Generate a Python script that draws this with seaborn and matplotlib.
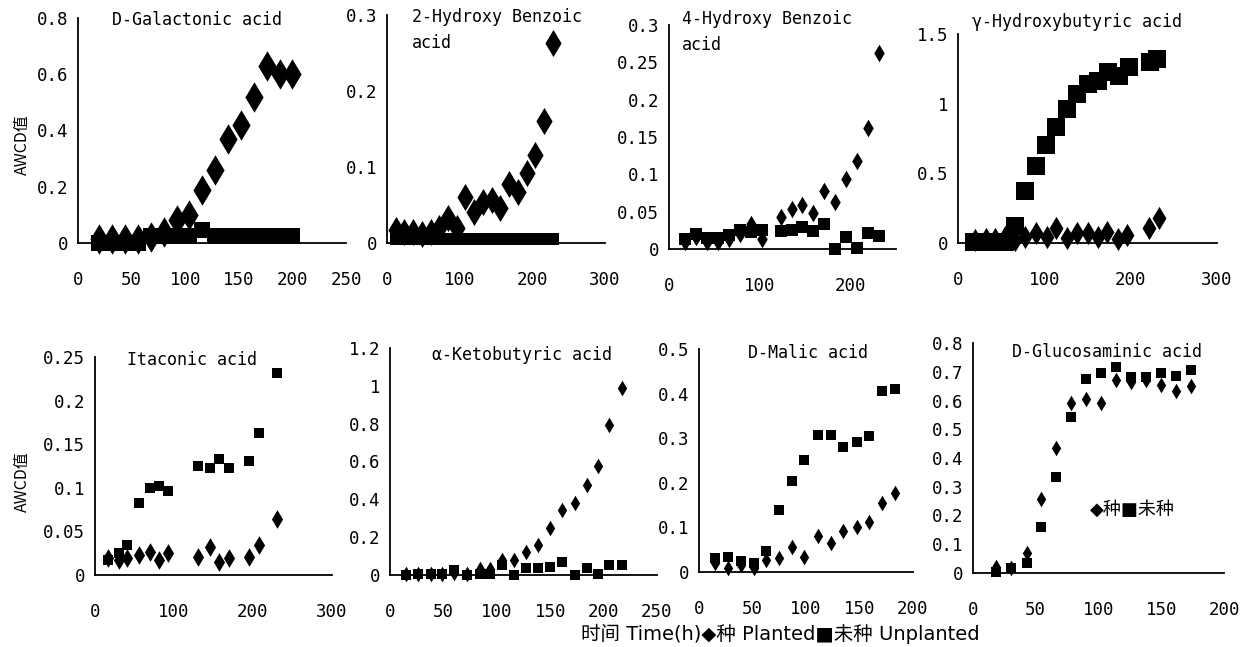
import numpy as np
import pandas as pd
import seaborn as sns
import matplotlib.pyplot as plt

# D-Galactonic acid
gal_time = [20, 32, 44, 56, 68, 80, 92, 104, 116, 128, 140, 152, 164, 176, 188, 200]
gal_planted = [0.015, 0.015, 0.015, 0.015, 0.02, 0.04, 0.08, 0.10, 0.19, 0.26, 0.37, 0.42, 0.52, 0.63, 0.60, 0.60]
gal_unplanted = [0.0, 0.0, 0.0, 0.0, 0.025, 0.025, 0.025, 0.025, 0.045, 0.025, 0.025, 0.025, 0.025, 0.025, 0.025, 0.025]

# 2-Hydroxy Benzoic acid
hb2_time = [12, 24, 36, 48, 60, 72, 84, 96, 108, 120, 132, 144, 156, 168, 180, 192, 204, 216, 228]
hb2_planted = [0.017, 0.015, 0.015, 0.012, 0.015, 0.02, 0.033, 0.02, 0.061, 0.041, 0.054, 0.057, 0.046,
               0.078, 0.067, 0.092, 0.116, 0.16, 0.263]
hb2_unplanted = [0.005] * 19

# 4-Hydroxy Benzoic acid
hb4_time = [18, 30, 42, 54, 66, 78, 90, 102, 123, 135, 147, 159, 171, 183, 195, 207, 219, 231]
hb4_planted = [0.01, 0.016, 0.01, 0.01, 0.013, 0.02, 0.033, 0.014, 0.043, 0.053, 0.059, 0.048,
               0.078, 0.063, 0.094, 0.118, 0.162, 0.262]
hb4_unplanted = [0.013, 0.02, 0.015, 0.015, 0.019, 0.025, 0.023, 0.026, 0.024, 0.025, 0.03, 0.024,
                 0.033, 0.0, 0.016, 0.001, 0.022, 0.017]

# gamma-Hydroxybutyric acid
ghb_time_p = [20, 32, 43, 55, 66, 78, 90, 103, 114, 126, 138, 150, 162, 173, 185, 196, 221, 233]
ghb_planted = [0.02, 0.03, 0.03, 0.04, 0.02, 0.045, 0.07, 0.045, 0.106, 0.034, 0.07, 0.07, 0.045,
               0.082, 0.026, 0.058, 0.106, 0.178]
ghb_time_u = [18, 30, 42, 54, 66, 78, 90, 102, 114, 126, 138, 150, 162, 174, 186, 198, 222, 230]
ghb_unplanted = [0.01, 0.01, 0.01, 0.01, 0.12, 0.37, 0.55, 0.70, 0.83, 0.96, 1.07, 1.14, 1.16,
                 1.23, 1.20, 1.26, 1.30, 1.32]

# Itaconic acid
ita_time = [17, 30, 41, 56, 69, 81, 93, 131, 145, 157, 169, 195, 208, 231]
ita_planted = [0.019, 0.017, 0.019, 0.023, 0.026, 0.017, 0.025, 0.021, 0.032, 0.015, 0.019, 0.021,
               0.034, 0.064]
ita_unplanted = [0.017, 0.025, 0.034, 0.083, 0.100, 0.102, 0.096, 0.125, 0.123, 0.133, 0.123, 0.131,
                 0.163, 0.232]

# alpha-Ketobutyric acid
akb_time = [15, 26, 38, 49, 60, 72, 84, 94, 105, 116, 127, 139, 150, 161, 173, 184, 195, 205, 217]
akb_planted = [0.005, 0.005, 0.005, 0.005, 0.01, 0.005, 0.03, 0.03, 0.08, 0.08, 0.123, 0.159, 0.247,
               0.344, 0.379, 0.476, 0.577, 0.794, 0.988]
akb_unplanted = [0.0, 0.005, 0.005, 0.005, 0.026, 0.0, 0.005, 0.005, 0.053, 0.0, 0.035, 0.035, 0.044,
                 0.07, 0.0, 0.035, 0.005, 0.053, 0.053]

# D-Malic acid
mal_time = [15, 27, 39, 51, 63, 75, 87, 98, 111, 123, 135, 148, 159, 171, 183]
mal_planted = [0.02, 0.008, 0.016, 0.008, 0.027, 0.031, 0.055, 0.034, 0.081, 0.064, 0.093, 0.100,
               0.113, 0.154, 0.178]
mal_unplanted = [0.031, 0.034, 0.025, 0.021, 0.046, 0.139, 0.204, 0.251, 0.307, 0.307, 0.280, 0.292,
                 0.305, 0.406, 0.410]

# D-Glucosaminic acid
glu_time = [18, 30, 43, 54, 66, 78, 90, 102, 114, 126, 138, 150, 162, 174]
glu_planted = [0.022, 0.019, 0.068, 0.256, 0.434, 0.590, 0.604, 0.590, 0.671, 0.666, 0.671, 0.654,
               0.633, 0.650]
glu_unplanted = [0.005, 0.016, 0.034, 0.159, 0.335, 0.542, 0.674, 0.695, 0.718, 0.683, 0.683, 0.695,
                 0.685, 0.706]

W, H = 1255, 647
sns.set_style('white')
plt.rcParams['font.family'] = ['DejaVu Sans Mono', 'Noto Sans CJK SC']
plt.rcParams['text.color'] = 'black'

fig = plt.figure(figsize=(W / 100, H / 100), dpi=100)

# (title, title pos px, t planted, planted, t unplanted, unplanted,
#  xmax, xticks, ymax, ystep, box px (x0, x1, y0, y1), diamond s, square s)
panels = [
    ('D-Galactonic acid', (112, 20), gal_time, gal_planted, gal_time, gal_unplanted,
     250, [0, 50, 100, 150, 200, 250], 0.8, 0.2, (78, 346, 243, 18), 240, 130),
    ('2-Hydroxy Benzoic\nacid', (412, 8), hb2_time, hb2_planted, hb2_time, hb2_unplanted,
     300, [0, 100, 200, 300], 0.3, 0.1, (387, 605, 243, 15), 190, 80),
    ('4-Hydroxy Benzoic\nacid', (682, 10), hb4_time, hb4_planted, hb4_time, hb4_unplanted,
     250, [0, 100, 200], 0.3, 0.05, (669, 896, 249, 25), 80, 65),
    ('γ-Hydroxybutyric acid', (972, 22), ghb_time_p, ghb_planted, ghb_time_u, ghb_unplanted,
     300, [0, 100, 200, 300], 1.5, 0.5, (958, 1217, 243, 34), 140, 150),
    ('Itaconic acid', (127, 360), ita_time, ita_planted, ita_time, ita_unplanted,
     300, [0, 100, 200, 300], 0.25, 0.05, (95, 332, 575, 357), 90, 55),
    ('α-Ketobutyric acid', (432, 355), akb_time, akb_planted, akb_time, akb_unplanted,
     250, [0, 50, 100, 150, 200, 250], 1.2, 0.2, (390, 657, 575, 348), 63, 45),
    ('D-Malic acid', (748, 353), mal_time, mal_planted, mal_time, mal_unplanted,
     200, [0, 50, 100, 150, 200], 0.5, 0.1, (699, 913, 572, 349), 63, 60),
    ('D-Glucosaminic acid', (1012, 352), glu_time, glu_planted, glu_time, glu_unplanted,
     200, [0, 50, 100, 150, 200], 0.8, 0.1, (973, 1224, 573, 343), 63, 58),
]

for (title, tpos, tp, vp, tu, vu, xmax, xticks, ymax, ystep, box, ds, ss) in panels:
    x0, x1, y0, y1 = box
    ax = fig.add_axes([x0 / W, 1 - y0 / H, (x1 - x0) / W, (y0 - y1) / H])
    dfp = pd.DataFrame({'time': tp, 'AWCD': vp})
    dfu = pd.DataFrame({'time': tu, 'AWCD': vu})
    sns.scatterplot(data=dfp, x='time', y='AWCD', marker='d', s=ds, color='black',
                    linewidth=0, clip_on=False, ax=ax)
    sns.scatterplot(data=dfu, x='time', y='AWCD', marker='s', s=ss, color='black',
                    linewidth=0, clip_on=False, ax=ax)
    ax.set_xlim(0, xmax)
    ax.set_ylim(0, ymax)
    ax.set_xticks(xticks)
    yt = np.round(np.arange(0, ymax + ystep / 2, ystep), 3)
    ax.set_yticks(yt)
    ax.set_yticklabels([f'{v:g}' for v in yt])
    ax.set_xlabel('')
    ax.set_ylabel('')
    ax.set_facecolor('none')
    for side in ['top', 'right']:
        ax.spines[side].set_visible(False)
    for side in ['left', 'bottom']:
        ax.spines[side].set_linewidth(1.3)
        ax.spines[side].set_color('black')
    ax.tick_params(axis='both', direction='in', length=4, width=1.2, labelsize=12.5, colors='black')
    ax.tick_params(axis='x', pad=20)
    ax.tick_params(axis='y', pad=7)
    fig.text(tpos[0] / W, 1 - tpos[1] / H, title, ha='left',
             va='top' if '\n' in title else 'center', fontsize=12, linespacing=1.6)

# y labels
for yc in (145, 482):
    fig.text(22 / W, 1 - yc / H, 'AWCD值', rotation=90, ha='center', va='center', fontsize=11.5,
             family=['Noto Sans CJK SC', 'DejaVu Sans'])

# legend in last panel and bottom caption
fig.text(1090 / W, 1 - 510 / H, '◆种■未种', ha='left', va='center', fontsize=13,
         family=['DejaVu Sans', 'Noto Sans CJK SC'])
fig.text(780 / W, 1 - 634 / H, '时间 Time(h)◆种 Planted■未种 Unplanted', ha='center', va='center',
         fontsize=14, family=['DejaVu Sans', 'Noto Sans CJK SC'])

fig.savefig('out.png', dpi=100)
